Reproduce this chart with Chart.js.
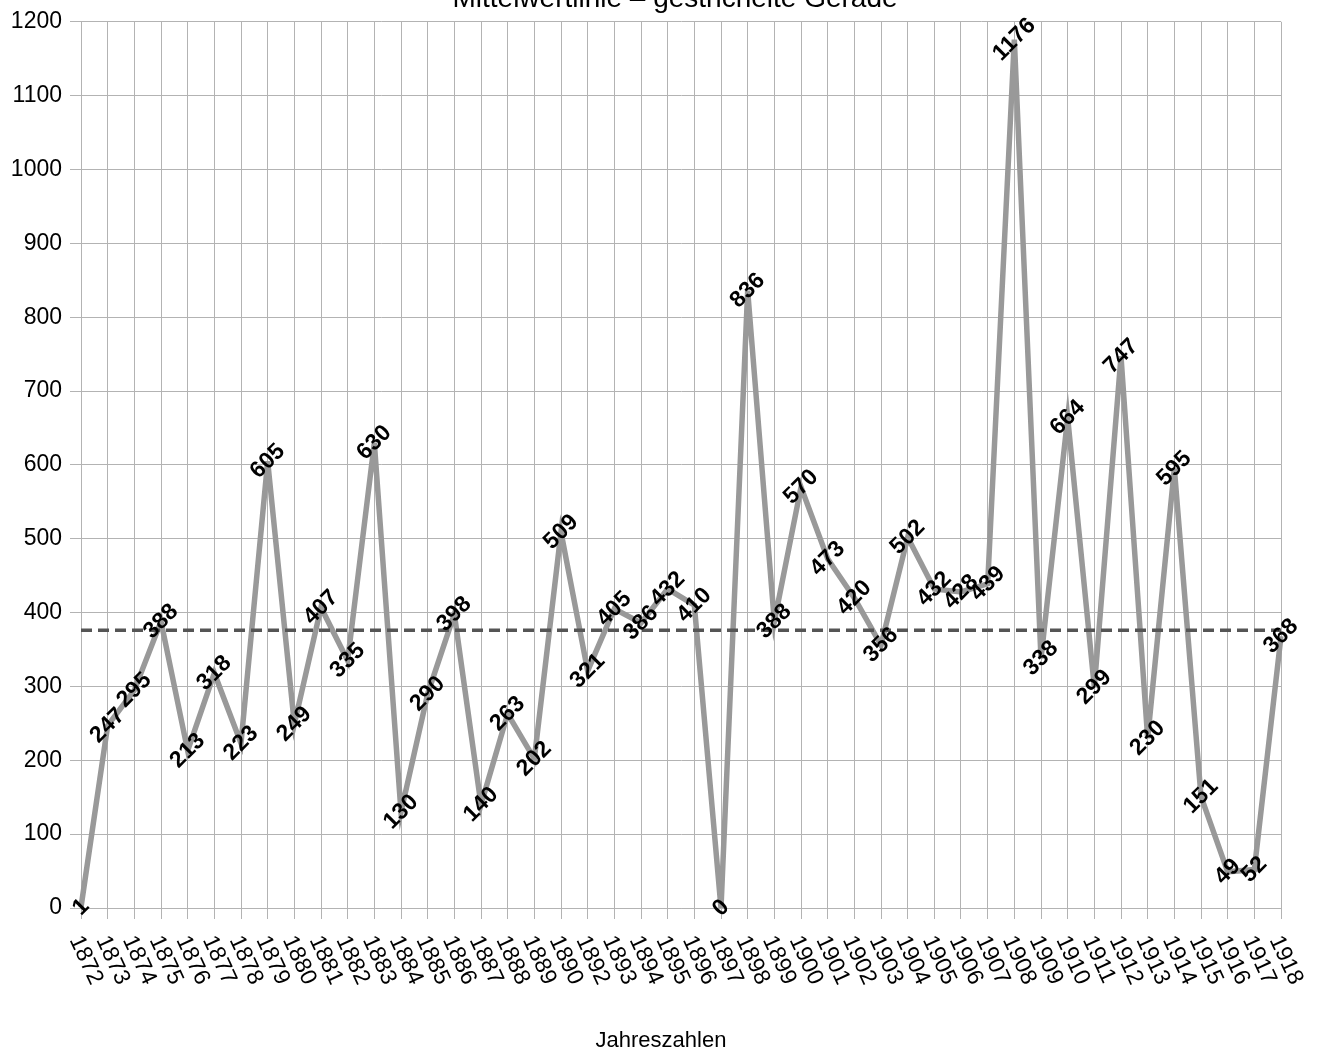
<!DOCTYPE html>
<html>
<head>
<meta charset="utf-8">
<script src="https://cdn.jsdelivr.net/npm/chart.js@4.4.1/dist/chart.umd.min.js"></script>
<style>
html, body { margin: 0; padding: 0; background: #fff; }
canvas { display: block; }
</style>
</head>
<body>
<canvas id="grafik" width="1327" height="1052"></canvas>
<script>
const jahre = ['1872', '1873', '1874', '1875', '1876', '1877', '1878', '1879', '1880', '1881',
    '1882', '1883', '1884', '1885', '1886', '1887', '1888', '1889', '1890', '1892',
    '1893', '1894', '1895', '1896', '1897', '1898', '1899', '1900', '1901', '1902',
    '1903', '1904', '1905', '1906', '1907', '1908', '1909', '1910', '1911', '1912',
    '1913', '1914', '1915', '1916', '1917', '1918'];
const werte = [1, 247, 295, 388, 213, 318, 223, 605, 249, 407,
    335, 630, 130, 290, 398, 140, 263, 202, 509, 321,
    405, 386, 432, 410, 0, 836, 388, 570, 473, 420,
    356, 502, 432, 428, 439, 1176, 338, 664, 299, 747,
    230, 595, 151, 49, 52, 368];
const mittelwert = 376;
const yTicks = [0, 100, 200, 300, 400, 500, 600, 700, 800, 900, 1000, 1100, 1200];
const titel = 'Mittelwertlinie – gestrichelte Gerade';
const achsenTitel = 'Jahreszahlen';

const schrift = '"Liberation Sans", Arial, sans-serif';

// Mittelwertlinie, Beschriftungen und Achsentexte
const zeichnen = {
    id: 'zeichnen',
    afterDatasetsDraw(chart) {
        const ctx = chart.ctx;
        const area = chart.chartArea;
        const y = chart.scales.y.getPixelForValue(mittelwert);
        ctx.save();
        ctx.strokeStyle = '#555555';
        ctx.lineWidth = 3.5;
        ctx.setLineDash([11, 6]);
        ctx.beginPath();
        ctx.moveTo(area.left, y);
        ctx.lineTo(area.right, y);
        ctx.stroke();
        ctx.restore();

        const meta = chart.getDatasetMeta(0);
        ctx.save();
        ctx.fillStyle = '#000';
        ctx.font = 'bold 23px ' + schrift;
        ctx.textAlign = 'center';
        ctx.textBaseline = 'middle';
        meta.data.forEach((pt, i) => {
            ctx.save();
            ctx.translate(pt.x, pt.y);
            ctx.rotate(-Math.PI / 4);
            ctx.fillText(String(werte[i]), 0, 0);
            ctx.restore();
        });
        ctx.restore();
    },
    afterDraw(chart) {
        const ctx = chart.ctx;
        const xs = chart.scales.x;
        const area = chart.chartArea;
        ctx.save();
        ctx.fillStyle = '#000';
        ctx.font = '23px ' + schrift;
        ctx.textAlign = 'left';
        ctx.textBaseline = 'middle';
        jahre.forEach((j, i) => {
            const x = xs.getPixelForTick(i);
            ctx.save();
            ctx.translate(x - 6, area.bottom + 29);
            ctx.rotate(65 * Math.PI / 180);
            ctx.fillText(j, 0, 0);
            ctx.restore();
        });

        ctx.font = '22px ' + schrift;
        ctx.textAlign = 'center';
        ctx.textBaseline = 'alphabetic';
        ctx.fillText(achsenTitel, 661, 1047);

        ctx.font = '28px ' + schrift;
        ctx.fillText(titel, 675, 7);
        ctx.restore();
    }
};

new Chart(document.getElementById('grafik'), {
    type: 'line',
    data: {
        labels: jahre,
        datasets: [{
            label: 'Werte',
            data: werte,
            borderColor: '#999999',
            backgroundColor: '#999999',
            borderWidth: 5.5,
            pointRadius: 0,
            tension: 0,
            fill: false
        }]
    },
    options: {
        responsive: false,
        animation: false,
        layout: {
            padding: { top: 17, right: 46, left: 0, bottom: 0 }
        },
        plugins: {
            legend: { display: false },
            title: { display: false },
            tooltip: { enabled: false }
        },
        scales: {
            x: {
                type: 'category',
                offset: false,
                grid: { color: '#b3b3b3', lineWidth: 1, tickLength: 11, drawTicks: true },
                border: { color: '#b3b3b3' },
                ticks: { display: false, autoSkip: false },
                afterFit(scale) { scale.height = 144; }
            },
            y: {
                min: 0,
                max: 1200,
                afterBuildTicks(scale) { scale.ticks = yTicks.map(v => ({ value: v })); },
                grid: { color: '#b3b3b3', lineWidth: 1, tickLength: 11 },
                border: { color: '#b3b3b3' },
                ticks: {
                    color: '#000',
                    padding: 8,
                    font: { family: schrift, size: 23 },
                    callback: (v) => String(v)
                },
                afterFit(scale) { scale.width = 81; }
            }
        }
    },
    plugins: [zeichnen]
});
</script>
</body>
</html>
